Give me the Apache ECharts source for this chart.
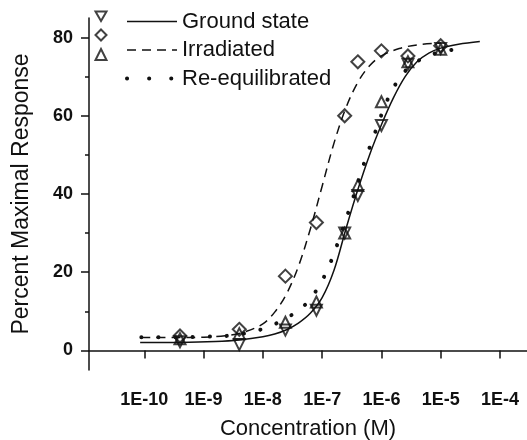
<!DOCTYPE html>
<html>
<head>
<meta charset="utf-8">
<script src="https://cdn.jsdelivr.net/npm/echarts@6/dist/echarts.min.js"></script>
<style>
  html, body { margin: 0; padding: 0; background: #fff; }
  #chart { width: 527px; height: 440px; }
</style>
</head>
<body>
<div id="chart"></div>
<script>
// x values are log10 of concentration (M)
const xTickValues = [-10, -9, -8, -7, -6, -5, -4];
const xTickLabels = ["1E-10", "1E-9", "1E-8", "1E-7", "1E-6", "1E-5", "1E-4"];
const yTickValues = [0, 20, 40, 60, 80];
const yMinorTicks = [10, 30, 50, 70];

// measured points
const conc = [4e-10, 4e-9, 2.4e-8, 8e-8, 2.4e-7, 4e-7, 1e-6, 2.8e-6, 1e-5];
const groundState = [2.2, 1.5, 5.2, 10.3, 30.0, 39.6, 57.5, 73.2, 77.2];
const irradiated = [3.7, 5.4, 19.0, 32.7, 60.0, 73.8, 76.6, 75.3, 77.9];
const reEquilibrated = [3.0, 4.3, 7.2, 12.4, 30.0, 42.2, 63.6, 73.8, 77.0];

// fitted curves (log10 x, response)
const groundFitX = [-10.07, -9.4, -8.8, -8.4, -8.0, -7.8, -7.6, -7.4, -7.2, -7.0, -6.8, -6.6, -6.4, -6.2, -6.0, -5.8, -5.6, -5.4, -5.2, -5.0, -4.7, -4.34];
const groundFitY = [2.0, 2.05, 2.3, 2.7, 3.5, 4.2, 5.3, 7.0, 9.5, 13.5, 20.5, 31, 41, 50, 57.7, 64.5, 70, 73.8, 76, 77.3, 78.3, 79.0];
const irrFitX = [-10.05, -9.5, -9.0, -8.6, -8.3, -8.0, -7.8, -7.6, -7.4, -7.2, -7.0, -6.8, -6.6, -6.4, -6.2, -6.0, -5.7, -5.4, -5.0];
const irrFitY = [3.3, 3.3, 3.4, 3.8, 4.8, 6.8, 9.8, 14.5, 21.5, 31, 42, 53, 62, 68.5, 72.8, 75.3, 77.2, 78.1, 78.6];
const reqFitX = [-10.05, -9.5, -9.0, -8.5, -8.0, -7.6, -7.3, -7.1, -6.9, -6.7, -6.5, -6.3, -6.1, -5.9, -5.7, -5.5, -5.2, -4.9, -4.6];
const reqFitY = [3.4, 3.4, 3.5, 3.9, 5.5, 8.3, 11.5, 15.3, 21, 29, 38, 47.5, 56, 64, 69.5, 72.8, 75.4, 76.6, 77.3];

const names = ["Ground state", "Irradiated", "Re-equilibrated"];
const ink = "#111";
const font = "'Liberation Sans', Arial, sans-serif";

const solidStyle = { type: "solid", width: 1.5 };
const dashStyle = { type: [9, 6], width: 1.5 };
const dotStyle = { type: [0.1, 17], width: 4, cap: "round" };

const pts = (ys) => conc.map((c, i) => [Math.log10(c), ys[i]]);
const curve = (xs, ys) => xs.map((x, i) => [x, ys[i]]);

const fitLine = (name, data, lineStyle) => ({
  name: name + " fit",
  type: "line",
  data,
  symbol: "none",
  smooth: 0.35,
  silent: true,
  lineStyle: Object.assign({ color: ink }, lineStyle),
  itemStyle: { color: ink },
  z: 2,
});

const marks = (name, data, symbol, size, rotate) => ({
  name,
  type: "scatter",
  data,
  symbol,
  symbolSize: size,
  symbolRotate: rotate || 0,
  itemStyle: { color: "rgba(0,0,0,0)", borderColor: ink, borderWidth: 2 },
  z: 3,
});

const chart = echarts.init(document.getElementById("chart"));
chart.setOption({
  animation: false,
  backgroundColor: "#fff",
  textStyle: { fontFamily: font },
  grid: { left: 89, right: 0, top: 18, bottom: 70, outerBoundsMode: "none" },
  legend: [
    {
      data: [
        { name: names[0], icon: "path://M0,0L10,0L5,8.66Z" },
        { name: names[1], icon: "diamond" },
        { name: names[2], icon: "triangle" },
      ],
      orient: "vertical",
      left: 94.5,
      top: 10.5,
      padding: 0,
      itemWidth: 11,
      itemHeight: 11,
      itemGap: 6.5,
      formatter: () => "",
      itemStyle: { color: "rgba(0,0,0,0)", borderColor: ink, borderWidth: 2 },
      textStyle: { fontSize: 22, lineHeight: 22 },
      selectedMode: false,
    },
    {
      data: [
        { name: names[0] + " fit", lineStyle: Object.assign({ color: ink }, solidStyle) },
        { name: names[1] + " fit", lineStyle: Object.assign({ color: ink }, dashStyle) },
        { name: names[2] + " fit", lineStyle: Object.assign({ color: ink }, dotStyle, { type: [0.1, 22] }) },
      ],
      orient: "vertical",
      left: 125,
      top: 10.5,
      padding: 0,
      itemWidth: 50,
      itemHeight: 14,
      itemGap: 6.5,
      itemStyle: { opacity: 0 },
      formatter: (n) => n.replace(" fit", ""),
      textStyle: { fontSize: 22, lineHeight: 22, color: ink, fontFamily: font },
      selectedMode: false,
    },
  ],
  xAxis: {
    type: "value",
    min: -10.933,
    max: -3.544,
    name: "Concentration (M)",
    nameLocation: "middle",
    nameGap: 48,
    nameTextStyle: { fontSize: 22, color: ink, fontFamily: font },
    axisLine: { lineStyle: { color: ink, width: 1.5 } },
    axisTick: { customValues: xTickValues, length: 8, lineStyle: { color: ink, width: 1.5 } },
    axisLabel: {
      customValues: xTickValues,
      formatter: (v) => xTickLabels[xTickValues.indexOf(Math.round(v))],
      fontSize: 18,
      fontWeight: "bold",
      color: ink,
      margin: 21,
      fontFamily: font,
    },
    splitLine: { show: false },
  },
  yAxis: [
    {
      type: "value",
      min: -5,
      max: 85,
      name: "Percent Maximal Response",
      nameLocation: "middle",
      nameGap: 56,
      nameTextStyle: { fontSize: 23, color: ink, fontFamily: font },
      axisLine: { show: true, lineStyle: { color: ink, width: 1.5 } },
      axisTick: { customValues: yTickValues, length: 8, lineStyle: { color: ink, width: 1.5 } },
      axisLabel: {
        customValues: yTickValues,
        fontSize: 18,
        fontWeight: "bold",
        color: ink,
        margin: 16,
        fontFamily: font,
      },
      splitLine: { show: false },
    },
    {
      type: "value",
      min: -5,
      max: 85,
      position: "left",
      axisLine: { show: false },
      axisTick: { customValues: yMinorTicks, length: 4, lineStyle: { color: ink, width: 1.5 } },
      axisLabel: { show: false },
      splitLine: { show: false },
    },
  ],
  series: [
    fitLine(names[0], curve(groundFitX, groundFitY), solidStyle),
    fitLine(names[1], curve(irrFitX, irrFitY), dashStyle),
    fitLine(names[2], curve(reqFitX, reqFitY), dotStyle),
    marks(names[0], pts(groundState), "triangle", 11, 180),
    marks(names[1], pts(irradiated), "diamond", 13),
    marks(names[2], pts(reEquilibrated), "triangle", 11),
  ],
});
</script>
</body>
</html>
